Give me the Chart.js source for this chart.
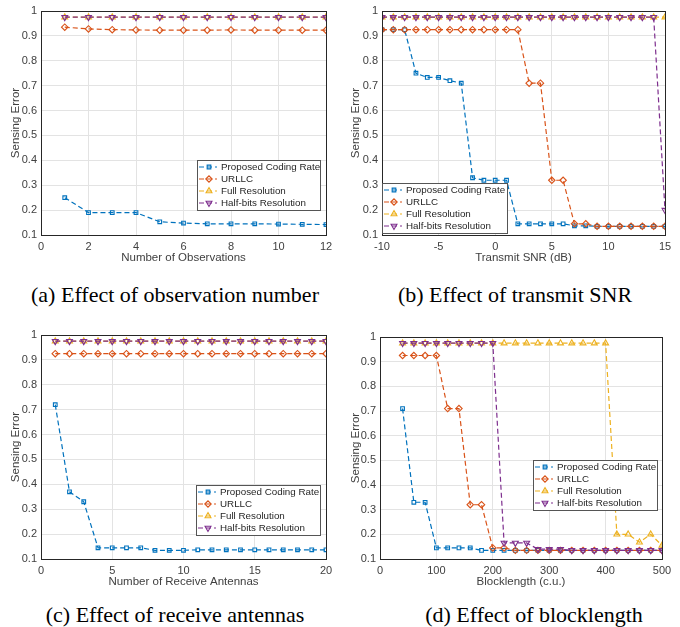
<!DOCTYPE html>
<html>
<head>
<meta charset="utf-8">
<script src="https://cdn.jsdelivr.net/npm/chart.js@4.4.1/dist/chart.umd.min.js"></script>
<style>
  body { margin: 0; background: #fff; }
  #wrap { position: relative; width: 680px; height: 627px; overflow: hidden; }
  .plot { position: absolute; width: 340px; height: 268px; }
  .cap { position: absolute; font-family: "Liberation Serif", "Times New Roman", serif; font-size: 22px; color: #000; white-space: nowrap; transform: translateX(-50%); }
</style>
</head>
<body>
<div id="wrap">
  <div class="plot" style="left:0;top:0"><canvas id="chartA"></canvas></div>
  <div class="plot" style="left:340px;top:0"><canvas id="chartB"></canvas></div>
  <div class="plot" style="left:0;top:322px;height:270px"><canvas id="chartC"></canvas></div>
  <div class="plot" style="left:340px;top:322px;height:270px"><canvas id="chartD"></canvas></div>
  <div class="cap" style="left:175px;top:282px">(a) Effect of observation number</div>
  <div class="cap" style="left:515px;top:282px">(b) Effect of transmit SNR</div>
  <div class="cap" style="left:175px;top:602px">(c) Effect of receive antennas</div>
  <div class="cap" style="left:534px;top:602px">(d) Effect of blocklength</div>
</div>
<script>
// series names
var seriesNames = ['Proposed Coding Rate', 'URLLC', 'Full Resolution', 'Half-bits Resolution'];

// (a) number of observations
var obsX = [1, 2, 3, 4, 5, 6, 7, 8, 9, 10, 11, 12];
var obsProposed = [0.25, 0.19, 0.19, 0.19, 0.153, 0.148, 0.145, 0.145, 0.145, 0.144, 0.143, 0.142];
var obsUrllc = [0.935, 0.928, 0.925, 0.924, 0.923, 0.923, 0.923, 0.924, 0.923, 0.923, 0.923, 0.923];
var obsFull = [0.975, 0.975, 0.975, 0.975, 0.975, 0.975, 0.975, 0.975, 0.975, 0.975, 0.975, 0.975];
var obsHalf = [0.975, 0.975, 0.975, 0.975, 0.975, 0.975, 0.975, 0.975, 0.975, 0.975, 0.975, 0.975];

// (b) transmit SNR
var snrX = [-10, -9, -8, -7, -6, -5, -4, -3, -2, -1, 0, 1, 2, 3, 4, 5, 6, 7, 8, 9, 10, 11, 12, 13, 14, 15];
var snrProposed = [0.925, 0.925, 0.925, 0.75, 0.733, 0.733, 0.72, 0.71, 0.33, 0.32, 0.32, 0.32, 0.145, 0.145, 0.145, 0.145, 0.145, 0.137, 0.137, 0.135, 0.135, 0.135, 0.135, 0.135, 0.135, 0.135];
var snrUrllc = [0.925, 0.925, 0.925, 0.925, 0.925, 0.925, 0.925, 0.925, 0.925, 0.925, 0.925, 0.925, 0.925, 0.71, 0.71, 0.32, 0.32, 0.145, 0.145, 0.135, 0.135, 0.135, 0.135, 0.135, 0.135, 0.135];
var snrFull = [0.975, 0.975, 0.975, 0.975, 0.975, 0.975, 0.975, 0.975, 0.975, 0.975, 0.975, 0.975, 0.975, 0.975, 0.975, 0.975, 0.975, 0.975, 0.975, 0.975, 0.975, 0.975, 0.975, 0.975, 0.975, 0.975];
var snrHalf = [0.975, 0.975, 0.975, 0.975, 0.975, 0.975, 0.975, 0.975, 0.975, 0.975, 0.975, 0.975, 0.975, 0.975, 0.975, 0.975, 0.975, 0.975, 0.975, 0.975, 0.975, 0.975, 0.975, 0.975, 0.975, 0.2];

// (c) receive antennas
var antX = [1, 2, 3, 4, 5, 6, 7, 8, 9, 10, 11, 12, 13, 14, 15, 16, 17, 18, 19, 20];
var antProposed = [0.72, 0.37, 0.33, 0.145, 0.145, 0.145, 0.145, 0.135, 0.135, 0.135, 0.137, 0.137, 0.137, 0.137, 0.137, 0.137, 0.137, 0.137, 0.137, 0.137];
var antUrllc = [0.925, 0.925, 0.925, 0.925, 0.925, 0.925, 0.925, 0.925, 0.925, 0.925, 0.925, 0.925, 0.925, 0.925, 0.925, 0.925, 0.925, 0.925, 0.925, 0.925];
var antFull = [0.975, 0.975, 0.975, 0.975, 0.975, 0.975, 0.975, 0.975, 0.975, 0.975, 0.975, 0.975, 0.975, 0.975, 0.975, 0.975, 0.975, 0.975, 0.975, 0.975];
var antHalf = [0.975, 0.975, 0.975, 0.975, 0.975, 0.975, 0.975, 0.975, 0.975, 0.975, 0.975, 0.975, 0.975, 0.975, 0.975, 0.975, 0.975, 0.975, 0.975, 0.975];

// (d) blocklength
var blkX = [40, 60, 80, 100, 120, 140, 160, 180, 200, 220, 240, 260, 280, 300, 320, 340, 360, 380, 400, 420, 440, 460, 480, 500];
var blkProposed = [0.71, 0.33, 0.33, 0.145, 0.145, 0.145, 0.145, 0.135, 0.135, 0.135, 0.135, 0.135, 0.135, 0.135, 0.135, 0.135, 0.135, 0.135, 0.135, 0.135, 0.135, 0.135, 0.135, 0.135];
var blkUrllc = [0.925, 0.925, 0.925, 0.925, 0.71, 0.71, 0.32, 0.32, 0.145, 0.145, 0.135, 0.135, 0.135, 0.135, 0.135, 0.135, 0.135, 0.135, 0.135, 0.135, 0.135, 0.135, 0.135, 0.135];
var blkFull = [0.975, 0.975, 0.975, 0.975, 0.975, 0.975, 0.975, 0.975, 0.975, 0.975, 0.975, 0.975, 0.975, 0.975, 0.975, 0.975, 0.975, 0.975, 0.975, 0.2, 0.2, 0.168, 0.2, 0.155];
var blkHalf = [0.975, 0.975, 0.975, 0.975, 0.975, 0.975, 0.975, 0.975, 0.975, 0.165, 0.165, 0.165, 0.14, 0.14, 0.14, 0.135, 0.135, 0.135, 0.135, 0.135, 0.135, 0.135, 0.135, 0.135];

var colors = ['#0072BD', '#D95319', '#EDB120', '#7E2F8E'];
var markers = ['rect', 'rectRot', 'triangle', 'triangle'];
var rotations = [0, 0, 0, 180];
var radii = [2.6, 3.2, 3.4, 3.4];
var textColor = '#404040';
var fontFamily = '"Liberation Sans", Arial, Helvetica, sans-serif';

function makeDatasets(xs, ys) {
    var sets = [];
    for (var i = 0; i < ys.length; i++) {
        var pts = [];
        for (var k = 0; k < xs.length; k++) {
            pts.push({x: xs[k], y: ys[i][k]});
        }
        sets.push({
            label: seriesNames[i],
            data: pts,
            order: ys.length - i,   // later series on top, like matlab
            borderColor: colors[i],
            backgroundColor: 'rgba(255,255,255,0)',
            borderWidth: 1.2,
            borderDash: [5, 3],
            pointStyle: markers[i],
            pointRotation: rotations[i],
            pointRadius: radii[i],
            pointBorderWidth: 1.1,
            pointBackgroundColor: 'rgba(255,255,255,0)',
            tension: 0
        });
    }
    return sets;
}

// frame + inset legend
var boxPlugin = {
    id: 'boxLegend',
    afterDraw: function(chart, args, opts) {
        var ctx = chart.ctx;
        var a = chart.chartArea;
        ctx.save();
        ctx.strokeStyle = '#262626';
        ctx.lineWidth = 1;
        ctx.strokeRect(Math.round(a.left) + 0.5, Math.round(a.top) + 0.5, Math.round(a.right - a.left), Math.round(a.bottom - a.top));

        var lx = opts.left, ly = opts.top, lw = opts.width, lh = opts.height;
        ctx.fillStyle = '#fff';
        ctx.fillRect(lx, ly, lw, lh);
        ctx.strokeStyle = '#555';
        ctx.strokeRect(lx + 0.5, ly + 0.5, lw, lh);
        ctx.font = '9.8px ' + fontFamily;
        ctx.textBaseline = 'middle';
        chart.data.datasets.forEach(function(ds, i) {
            var y = ly + 7 + i * 12;
            ctx.strokeStyle = ds.borderColor;
            ctx.lineWidth = 1.2;
            ctx.setLineDash([5, 3]);
            ctx.beginPath();
            ctx.moveTo(lx + 2, y);
            ctx.lineTo(lx + 20, y);
            ctx.stroke();
            ctx.setLineDash([]);
            ctx.fillStyle = 'rgba(255,255,255,0)';
            ctx.lineWidth = 1.1;
            Chart.helpers.drawPoint(ctx, {pointStyle: ds.pointStyle, rotation: ds.pointRotation, radius: ds.pointRadius, borderWidth: 1.1}, lx + 12, y);
            ctx.fillStyle = '#262626';
            ctx.fillText(ds.label, lx + 24, y + 0.5);
        });
        ctx.restore();
    }
};

function drawPanel(id, xs, ys, xMin, xMax, xStep, xTitle, pad, yWidth, legendBox) {
    return new Chart(document.getElementById(id), {
        type: 'line',
        data: { datasets: makeDatasets(xs, ys) },
        plugins: [boxPlugin],
        options: {
            responsive: true,
            maintainAspectRatio: false,
            animation: false,
            layout: { padding: pad },
            plugins: {
                legend: { display: false },
                tooltip: { enabled: false },
                boxLegend: legendBox
            },
            scales: {
                x: {
                    type: 'linear',
                    min: xMin,
                    max: xMax,
                    afterFit: function(axis) { axis.height = 33; },
                    ticks: { stepSize: xStep, color: textColor, padding: 5, font: { family: fontFamily, size: 11 }, maxRotation: 0 },
                    grid: { color: '#e3e3e3', drawTicks: false },
                    border: { color: '#262626' },
                    title: { display: true, text: xTitle, color: textColor, padding: { top: 0, bottom: 3 }, font: { family: fontFamily, size: 11.5 } }
                },
                y: {
                    min: 0.1,
                    max: 1,
                    afterFit: function(axis) { axis.width = yWidth; },
                    ticks: {
                        stepSize: 0.1,
                        color: textColor,
                        padding: 4,
                        font: { family: fontFamily, size: 11 },
                        callback: function(v) { return Math.round(v * 10) / 10; }
                    },
                    grid: { color: '#e3e3e3', drawTicks: false },
                    border: { color: '#262626' },
                    title: { display: true, text: 'Sensing Error', color: textColor, padding: { top: 9, bottom: 0 }, font: { family: fontFamily, size: 11.5 } }
                }
            }
        }
    });
}

drawPanel('chartA', obsX, [obsProposed, obsUrllc, obsFull, obsHalf], 0, 12, 2, 'Number of Observations',
    { left: 0, right: 14, top: 11, bottom: 0 }, 41, { left: 197, top: 160, width: 123, height: 50 });
drawPanel('chartB', snrX, [snrProposed, snrUrllc, snrFull, snrHalf], -10, 15, 5, 'Transmit SNR (dB)',
    { left: 0, right: 15, top: 11, bottom: 0 }, 42, { left: 42, top: 183, width: 125, height: 50 });
drawPanel('chartC', antX, [antProposed, antUrllc, antFull, antHalf], 0, 20, 5, 'Number of Receive Antennas',
    { left: 0, right: 14, top: 13, bottom: 0 }, 41, { left: 196, top: 163, width: 124, height: 50 });
drawPanel('chartD', blkX, [blkProposed, blkUrllc, blkFull, blkHalf], 0, 500, 100, 'Blocklength (c.u.)',
    { left: 0, right: 18, top: 15, bottom: 0 }, 40, { left: 193, top: 138, width: 124, height: 50 });
</script>
</body>
</html>
